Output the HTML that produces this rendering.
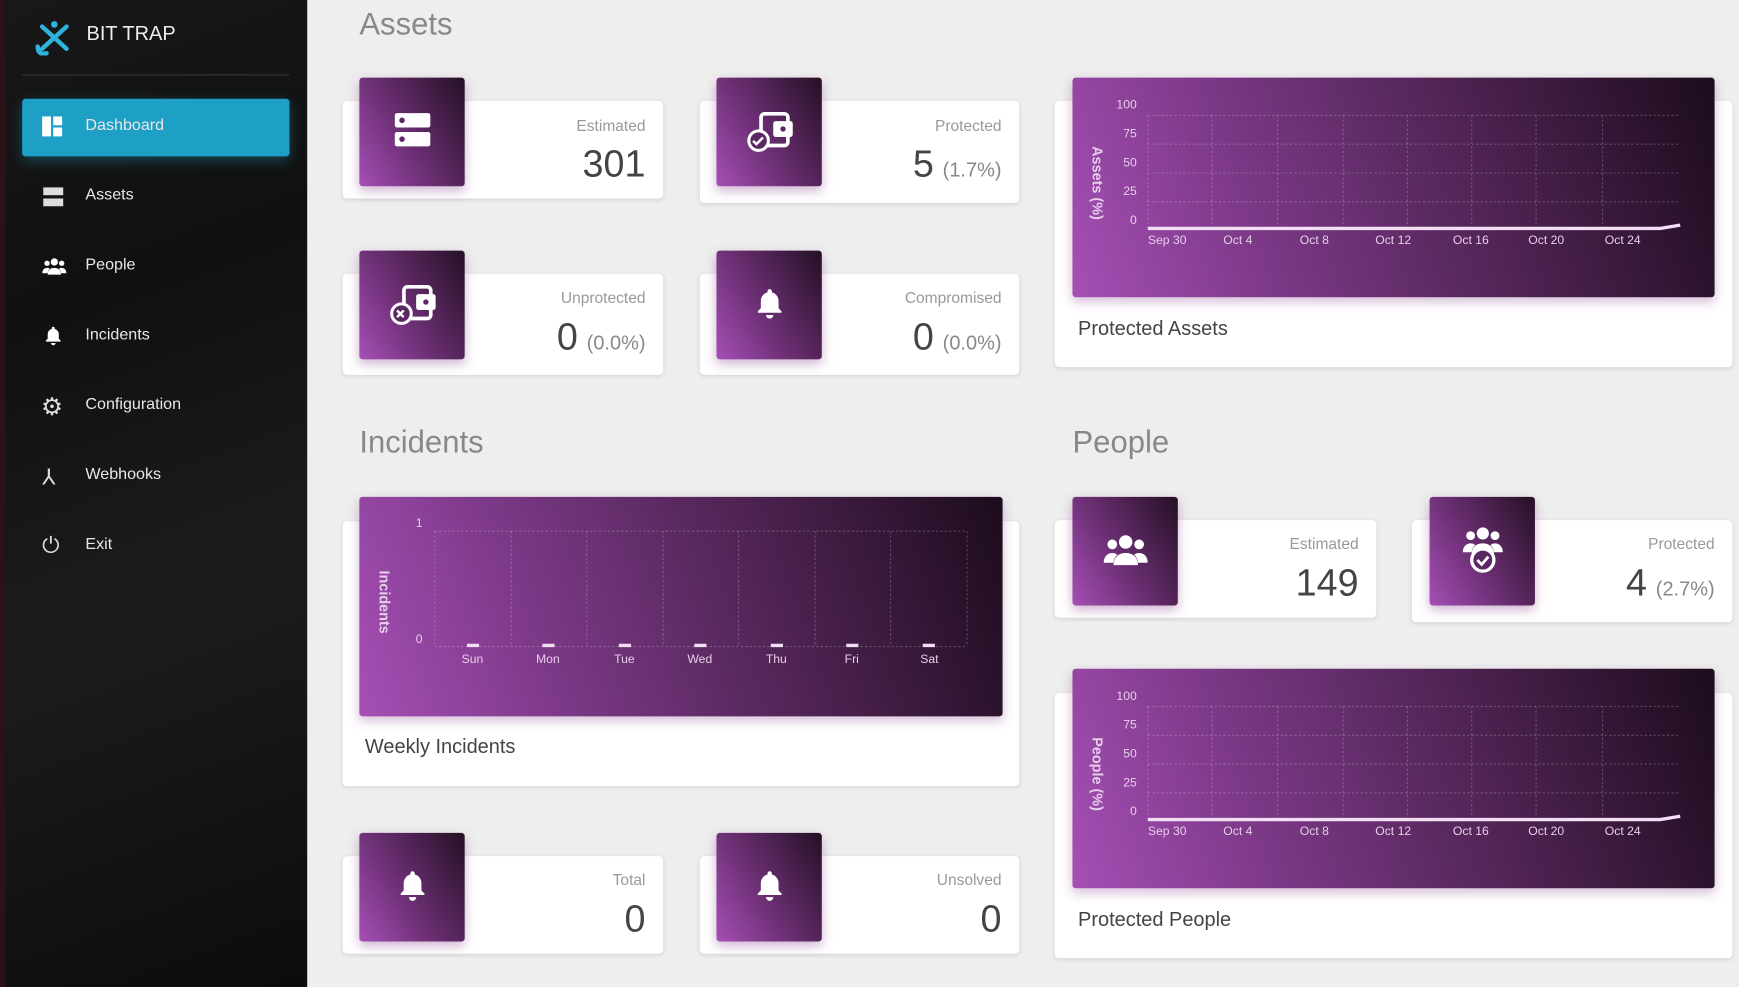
<!DOCTYPE html>
<html><head><meta charset="utf-8"><style>
html,body{margin:0;padding:0;width:1739px;height:987px;overflow:hidden;background:#eeeeee;font-family:"Liberation Sans",sans-serif}
#w{position:absolute;left:0;top:0;width:1568px;height:890px;transform:scale(1.10906,1.10899);transform-origin:0 0;background:#eeeeee}
.sb{position:absolute;left:0;top:0;width:277px;height:890px;background:linear-gradient(160deg,#181818 0%,#101010 30%,#1c1c1c 60%,#0c0c0c 100%)}
.sb:before{content:"";position:absolute;left:0;top:0;width:5px;height:890px;background:#2a1216}
.a{position:absolute}
.mi{position:absolute;left:77px;color:#e8e8e8;font-size:14.5px}
.card{position:absolute;background:#fff;border-radius:4px;box-shadow:0 1px 4px rgba(0,0,0,.12)}
.ib{position:absolute;width:95px;height:98px;border-radius:3px;background:linear-gradient(60deg,#a54fb5 0%,#6a2e72 45%,#241024 100%);box-shadow:0 4px 10px rgba(120,40,130,.35)}
.lbl{position:absolute;right:16px;color:#999;font-size:14px;text-align:right}
.val{position:absolute;right:16px;color:#444;font-size:34px;text-align:right}
.val small{font-size:18px;color:#888;margin-left:8px}
.h{position:absolute;font-size:28px;color:#888}
.cb{position:absolute;width:579px;height:198px;border-radius:3px;background:linear-gradient(70deg,#a54fb5 0%,#7a3885 30%,#4c2250 65%,#1c0c1c 100%);box-shadow:0 4px 10px rgba(120,40,130,.3)}
.ct{position:absolute;font-size:18px;color:#444}
</style></head><body><div id="w">
<svg width="0" height="0" style="position:absolute"><defs>
<symbol id="bell" viewBox="0 0 24 24"><path d="M12 2a1.5 1.5 0 0 1 1.5 1.5v.7A6 6 0 0 1 18 10v5l2 2v1H4v-1l2-2v-5a6 6 0 0 1 4.5-5.8v-.7A1.5 1.5 0 0 1 12 2z M9.5 19.5h5a2.5 2.5 0 0 1-5 0z" fill="#fff"/></symbol>
<symbol id="ppl" viewBox="0 0 40 30"><circle cx="20" cy="7" r="5.5" fill="#fff"/><circle cx="9" cy="9" r="4" fill="#fff"/><circle cx="31" cy="9" r="4" fill="#fff"/><path d="M10 26c0-7 4.5-10 10-10s10 3 10 10z" fill="#fff"/><path d="M2 24c0-5 3-8 7-8 2 0 3 .5 4 1.5-2 2-3 4.5-3 6.5z M38 24c0-5-3-8-7-8-2 0-3 .5-4 1.5 2 2 3 4.5 3 6.5z" fill="#fff"/></symbol>
<symbol id="wal" viewBox="0 0 40 36"><rect x="12" y="4" width="22" height="26" rx="3" fill="none" stroke="#fff" stroke-width="3"/><rect x="22" y="10" width="16" height="13" rx="2" fill="#fff"/><circle cx="30" cy="16.5" r="2.2" fill="#5a2862"/><circle cx="10" cy="26" r="8" fill="#5a2862" stroke="#fff" stroke-width="2.5"/></symbol>
</defs></svg>
<div class="sb">
 <svg class="a" style="left:30px;top:18px" width="38" height="32" viewBox="0 0 38 32"><g stroke="#2fb3dd" stroke-width="4" stroke-linecap="round" fill="none"><path d="M8 6 L30 26"/><path d="M30 6 L8 26"/><path d="M4 24 q0 8 8 6"/></g><circle cx="19" cy="4" r="3" fill="#2fb3dd"/></svg>
 <div class="a" style="left:78px;top:20px;color:#eee;font-size:18px">BIT TRAP</div>
 <div class="a" style="left:20px;top:67px;width:241px;height:1px;background:#333"></div>
 <div class="a" style="left:20px;top:89px;width:241px;height:52px;background:#1e9fc6;border-radius:3px;box-shadow:0 4px 12px rgba(30,160,200,.35)"></div>
 <div class="a" style="left:38px;top:105px;width:8px;height:18px;background:#fff"></div><div class="a" style="left:48px;top:105px;width:8px;height:8px;background:#fff"></div><div class="a" style="left:48px;top:115px;width:8px;height:8px;background:#fff"></div>
 <div class="mi" style="top:105px">Dashboard</div>
 <div class="a" style="left:39px;top:169px;width:18px;height:7px;background:#ddd"></div><div class="a" style="left:39px;top:179px;width:18px;height:7px;background:#ddd"></div>
 <div class="mi" style="top:168px">Assets</div>
 <svg class="a" style="left:37px;top:232px" width="24" height="18"><use href="#ppl"/></svg>
 <div class="mi" style="top:231px">People</div>
 <svg class="a" style="left:38px;top:292px" width="20" height="22"><use href="#bell"/></svg>
 <div class="mi" style="top:294px">Incidents</div>
 <div class="a" style="left:37px;top:354px;color:#ddd;font-size:22px">⚙</div>
 <div class="mi" style="top:357px">Configuration</div>
 <div class="a" style="left:38px;top:418px;color:#ddd;font-size:20px">⅄</div>
 <div class="mi" style="top:420px">Webhooks</div>
 <div class="a" style="left:38px;top:481px;color:#ddd;font-size:20px">⏻</div>
 <div class="mi" style="top:483px">Exit</div>
</div>

<div class="h" style="left:324px;top:6px">Assets</div>
<div class="card" style="left:309px;top:91px;width:289px;height:88px"><div class="lbl" style="top:14px">Estimated</div><div class="val" style="top:38px">301</div></div>
<div class="ib" style="left:324px;top:70px"><div class="a" style="left:32px;top:32px;width:32px;height:13px;background:#fff;border-radius:2px"></div><div class="a" style="left:32px;top:49px;width:32px;height:13px;background:#fff;border-radius:2px"></div><div class="a" style="left:36px;top:36px;width:5px;height:5px;background:#5a2862;border-radius:50%"></div><div class="a" style="left:36px;top:53px;width:5px;height:5px;background:#5a2862;border-radius:50%"></div></div>
<div class="card" style="left:631px;top:91px;width:288px;height:92px"><div class="lbl" style="top:14px">Protected</div><div class="val" style="top:38px">5<small>(1.7%)</small></div></div>
<div class="ib" style="left:646px;top:70px"><svg class="a" style="left:27px;top:28px" width="44" height="40"><use href="#wal"/><path d="M6 29 l3 3 l6 -6" stroke="#fff" stroke-width="2.2" fill="none"/></svg></div>
<div class="card" style="left:309px;top:247px;width:289px;height:91px"><div class="lbl" style="top:13px">Unprotected</div><div class="val" style="top:38px">0<small>(0.0%)</small></div></div>
<div class="ib" style="left:324px;top:226px"><svg class="a" style="left:27px;top:28px" width="44" height="40"><use href="#wal"/><path d="M7 26 l6 6 M13 26 l-6 6" stroke="#fff" stroke-width="2.2"/></svg></div>
<div class="card" style="left:631px;top:247px;width:288px;height:91px"><div class="lbl" style="top:13px">Compromised</div><div class="val" style="top:38px">0<small>(0.0%)</small></div></div>
<div class="ib" style="left:646px;top:226px"><svg class="a" style="left:32px;top:30px" width="32" height="36"><use href="#bell"/></svg></div>

<div class="card" style="left:951px;top:91px;width:611px;height:240px"><div class="ct" style="left:21px;top:195px">Protected Assets</div></div>
<div class="cb" style="left:967px;top:70px"><svg width="579" height="198" font-family="Liberation Sans" font-size="11" fill="#e6cfe8">
<g stroke="#ffffff" stroke-opacity=".22" stroke-dasharray="2 2"><line x1="68" x2="548" y1="34" y2="34"/><line x1="68" x2="548" y1="60" y2="60"/><line x1="68" x2="548" y1="86" y2="86"/><line x1="68" x2="548" y1="112" y2="112"/><line x1="68" y1="34" x2="68" y2="138"/><line x1="126" y1="34" x2="126" y2="138"/><line x1="185" y1="34" x2="185" y2="138"/><line x1="244" y1="34" x2="244" y2="138"/><line x1="302" y1="34" x2="302" y2="138"/><line x1="360" y1="34" x2="360" y2="138"/><line x1="418" y1="34" x2="418" y2="138"/><line x1="478" y1="34" x2="478" y2="138"/></g>
<g text-anchor="end"><text x="58" y="28">100</text><text x="58" y="54">75</text><text x="58" y="80">50</text><text x="58" y="106">25</text><text x="58" y="132">0</text></g>
<text transform="translate(18,95) rotate(90)" text-anchor="middle" font-size="13" font-weight="bold">Assets (%)</text>
<path d="M68 136 L530 136 L548 133" stroke="#f2dff4" stroke-width="3" fill="none"/>
<g><text x="68" y="150">Sep 30</text><text x="136" y="150">Oct 4</text><text x="205" y="150">Oct 8</text><text x="273" y="150">Oct 12</text><text x="343" y="150">Oct 16</text><text x="411" y="150">Oct 20</text><text x="480" y="150">Oct 24</text></g></svg></div>

<div class="h" style="left:324px;top:383px">Incidents</div>
<div class="card" style="left:309px;top:470px;width:610px;height:239px"><div class="ct" style="left:20px;top:193px">Weekly Incidents</div></div>
<div class="cb" style="left:324px;top:448px;width:580px"><svg width="580" height="198" font-family="Liberation Sans" font-size="11" fill="#e6cfe8">
<g stroke="#ffffff" stroke-opacity=".22" stroke-dasharray="2 2"><line x1="68" x2="548" y1="31" y2="31"/><line x1="68" x2="548" y1="135" y2="135"/><line x1="68" y1="31" x2="68" y2="135"/><line x1="137" y1="31" x2="137" y2="135"/><line x1="205" y1="31" x2="205" y2="135"/><line x1="274" y1="31" x2="274" y2="135"/><line x1="342" y1="31" x2="342" y2="135"/><line x1="411" y1="31" x2="411" y2="135"/><line x1="479" y1="31" x2="479" y2="135"/><line x1="548" y1="31" x2="548" y2="135"/></g>
<text x="57" y="27" text-anchor="end">1</text><text x="57" y="132" text-anchor="end">0</text>
<text transform="translate(18,95) rotate(90)" text-anchor="middle" font-size="13" font-weight="bold">Incidents</text>
<g stroke="#f2dff4" stroke-width="3"><line x1="97" x2="108" y1="134" y2="134"/><line x1="165" x2="176" y1="134" y2="134"/><line x1="234" x2="245" y1="134" y2="134"/><line x1="302" x2="313" y1="134" y2="134"/><line x1="371" x2="382" y1="134" y2="134"/><line x1="439" x2="450" y1="134" y2="134"/><line x1="508" x2="519" y1="134" y2="134"/></g>
<g text-anchor="middle"><text x="102" y="150">Sun</text><text x="170" y="150">Mon</text><text x="239" y="150">Tue</text><text x="307" y="150">Wed</text><text x="376" y="150">Thu</text><text x="444" y="150">Fri</text><text x="514" y="150">Sat</text></g></svg></div>

<div class="card" style="left:309px;top:772px;width:289px;height:88px"><div class="lbl" style="top:13px">Total</div><div class="val" style="top:38px">0</div></div>
<div class="ib" style="left:324px;top:751px"><svg class="a" style="left:32px;top:30px" width="32" height="36"><use href="#bell"/></svg></div>
<div class="card" style="left:631px;top:772px;width:288px;height:88px"><div class="lbl" style="top:13px">Unsolved</div><div class="val" style="top:38px">0</div></div>
<div class="ib" style="left:646px;top:751px"><svg class="a" style="left:32px;top:30px" width="32" height="36"><use href="#bell"/></svg></div>

<div class="h" style="left:967px;top:383px">People</div>
<div class="card" style="left:951px;top:469px;width:290px;height:88px"><div class="lbl" style="top:13px">Estimated</div><div class="val" style="top:38px">149</div></div>
<div class="ib" style="left:967px;top:448px"><svg class="a" style="left:26px;top:33px" width="44" height="33"><use href="#ppl"/></svg></div>
<div class="card" style="left:1273px;top:469px;width:289px;height:92px"><div class="lbl" style="top:13px">Protected</div><div class="val" style="top:38px">4<small>(2.7%)</small></div></div>
<div class="ib" style="left:1289px;top:448px"><svg class="a" style="left:27px;top:26px" width="42" height="44" viewBox="0 0 42 44"><svg width="42" height="30"><use href="#ppl"/></svg><circle cx="21" cy="31" r="10" fill="#5a2862" stroke="#fff" stroke-width="3"/><path d="M16 31 l4 4 l6 -7" stroke="#fff" stroke-width="2.5" fill="none"/></svg></div>

<div class="card" style="left:951px;top:625px;width:611px;height:239px"><div class="ct" style="left:21px;top:194px">Protected People</div></div>
<div class="cb" style="left:967px;top:603px"><svg width="579" height="198" font-family="Liberation Sans" font-size="11" fill="#e6cfe8">
<g stroke="#ffffff" stroke-opacity=".22" stroke-dasharray="2 2"><line x1="68" x2="548" y1="34" y2="34"/><line x1="68" x2="548" y1="60" y2="60"/><line x1="68" x2="548" y1="86" y2="86"/><line x1="68" x2="548" y1="112" y2="112"/><line x1="68" y1="34" x2="68" y2="138"/><line x1="126" y1="34" x2="126" y2="138"/><line x1="185" y1="34" x2="185" y2="138"/><line x1="244" y1="34" x2="244" y2="138"/><line x1="302" y1="34" x2="302" y2="138"/><line x1="360" y1="34" x2="360" y2="138"/><line x1="418" y1="34" x2="418" y2="138"/><line x1="478" y1="34" x2="478" y2="138"/></g>
<g text-anchor="end"><text x="58" y="28">100</text><text x="58" y="54">75</text><text x="58" y="80">50</text><text x="58" y="106">25</text><text x="58" y="132">0</text></g>
<text transform="translate(18,95) rotate(90)" text-anchor="middle" font-size="13" font-weight="bold">People (%)</text>
<path d="M68 136 L530 136 L548 133" stroke="#f2dff4" stroke-width="3" fill="none"/>
<g><text x="68" y="150">Sep 30</text><text x="136" y="150">Oct 4</text><text x="205" y="150">Oct 8</text><text x="273" y="150">Oct 12</text><text x="343" y="150">Oct 16</text><text x="411" y="150">Oct 20</text><text x="480" y="150">Oct 24</text></g></svg></div>
</div></body></html>
